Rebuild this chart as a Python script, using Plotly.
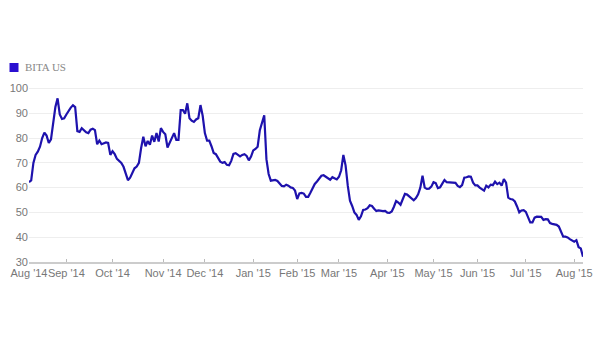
import pandas as pd
import plotly.graph_objects as go

series_name = "BITA US"
start_date = "2014-08-07"
holidays = ["2014-09-01", "2014-11-27", "2014-12-25", "2015-01-01", "2015-01-19",
            "2015-02-16", "2015-04-03", "2015-05-25", "2015-07-03"]

values = [
    62.2, 62.9, 70.0, 73.2, 74.5, 76.5, 80.0, 82.2, 81.0, 78.0,
    79.5, 86.0, 92.5, 96.0, 89.5, 87.7, 88.0, 89.5, 91.2, 92.3,
    93.2, 92.5, 82.8, 82.5, 84.0, 83.0, 82.3, 82.0, 83.4, 83.8,
    83.2, 77.5, 79.0, 77.5, 78.0, 78.2, 78.0, 73.2, 74.7, 73.5,
    71.6, 70.7, 70.0, 68.4, 65.8, 63.0, 64.0, 66.0, 67.8, 68.5,
    70.0, 76.0, 80.5, 76.7, 78.8, 77.3, 81.0, 78.5, 82.0, 78.6,
    84.0, 82.5, 81.5, 76.2, 78.4, 79.8, 82.0, 79.3, 79.3, 91.3,
    91.3, 89.8, 94.0, 88.0, 87.0, 86.5, 87.5, 88.0, 93.3, 89.0,
    82.0, 79.0, 79.0, 76.7, 74.0, 73.5, 72.0, 70.5, 70.0, 70.3,
    69.2, 69.0, 70.8, 73.6, 73.9, 73.2, 72.6, 73.2, 73.5, 72.8,
    71.0, 72.5, 75.0, 75.6, 76.5, 83.2, 86.0, 89.2, 71.5, 65.5,
    62.8, 62.9, 63.1, 62.7, 61.8, 60.7, 60.5, 61.2, 60.8, 60.1,
    59.9, 58.8, 55.4, 57.7, 57.9, 57.6, 56.3, 56.3, 57.9, 59.8,
    61.5, 62.5, 63.5, 64.8, 65.0, 64.3, 63.6, 63.2, 64.2, 63.8,
    63.3, 64.4, 67.0, 73.2, 69.0, 60.8, 54.7, 52.6, 50.0, 49.0,
    47.0, 48.4, 51.0, 51.2, 51.7, 52.9, 52.6, 51.5, 50.6, 50.8,
    50.5, 50.5, 50.6, 49.9, 49.8, 50.4, 52.3, 54.6, 54.0, 53.1,
    55.3, 57.5, 57.2, 56.5, 55.5, 54.9, 55.8, 57.3, 60.0, 64.8,
    60.0, 59.5, 59.6, 60.4, 62.2, 61.8, 59.8, 60.1, 61.6, 63.1,
    62.2, 62.1, 62.1, 62.1, 61.9, 60.7, 60.2, 61.0, 64.0, 64.2,
    64.5, 64.4, 62.0, 60.9, 60.9, 60.0, 59.3, 58.8, 60.8, 60.1,
    61.2, 61.0, 62.4, 61.4, 62.0, 60.8, 63.4, 62.0, 56.0, 55.4,
    55.2, 54.4, 52.4, 50.0, 50.8, 50.9, 50.2, 47.8, 46.0, 46.0,
    47.9, 48.3, 48.3, 48.2, 47.0, 47.3, 47.2, 45.7, 45.4, 45.1,
    45.0, 44.3, 42.0, 40.2, 40.2, 39.9, 39.2, 38.7, 38.2, 38.8,
    36.0, 35.5, 32.1,
]

tick_dates = ["2014-08-07", "2014-09-02", "2014-10-01", "2014-11-03", "2014-12-01",
              "2015-01-02", "2015-02-02", "2015-03-02", "2015-04-01", "2015-05-01",
              "2015-06-01", "2015-07-01", "2015-08-03"]
tick_labels = ["Aug '14", "Sep '14", "Oct '14", "Nov '14", "Dec '14", "Jan '15", "Feb '15",
               "Mar '15", "Apr '15", "May '15", "Jun '15", "Jul '15", "Aug '15"]
y_ticks = [30, 40, 50, 60, 70, 80, 90, 100]

line_color = "#1e12ad"

bday = pd.offsets.CustomBusinessDay(holidays=holidays)
dates = pd.date_range(start_date, periods=len(values), freq=bday)

fig = go.Figure()
fig.add_trace(go.Scatter(x=dates, y=values, mode="lines", name=series_name,
                         line=dict(color=line_color, width=2.2), showlegend=False))

fig.update_layout(
    template="none",
    width=604, height=337,
    margin=dict(l=29, r=21, t=86, b=75, pad=0),
    paper_bgcolor="white", plot_bgcolor="white",
    font=dict(family="Liberation Sans, Arial, sans-serif", size=11, color="#777777"),
    showlegend=False,
)
fig.update_xaxes(
    type="date",
    range=[dates[0], dates[-1]],
    rangebreaks=[dict(bounds=["sat", "mon"]), dict(values=holidays)],
    tickvals=tick_dates, ticktext=tick_labels,
    tickangle=0, ticklabeloverflow="allow",
    showgrid=False, zeroline=False,
    showline=True, linecolor="#cccccc", linewidth=1.5,
    ticks="inside", ticklen=3, tickcolor="#bbbbbb", tickwidth=1,
    tickfont=dict(size=11, color="#777777"),
    automargin=False,
)
fig.update_yaxes(
    range=[30, 101],
    tickvals=y_ticks,
    showgrid=True, gridcolor="#eeeeee", gridwidth=1,
    zeroline=False, showline=False, ticks="",
    tickfont=dict(size=11, color="#777777"),
    automargin=False,
)

# legend swatch and label
fig.add_shape(type="rect", xref="paper", yref="paper",
              x0=(9.5 - 29) / 554, x1=(18.5 - 29) / 554,
              y0=(262 - 72) / 176, y1=(262 - 63) / 176,
              fillcolor="#2a0fd0", line=dict(width=0))
fig.add_annotation(text=series_name, xref="paper", yref="paper",
                   x=(22.5 - 29) / 554, y=(262 - 67.5) / 176,
                   xanchor="left", yanchor="middle", showarrow=False,
                   font=dict(family="Liberation Serif, Times New Roman, serif", size=11, color="#888888"))

fig.write_html("out.html")
